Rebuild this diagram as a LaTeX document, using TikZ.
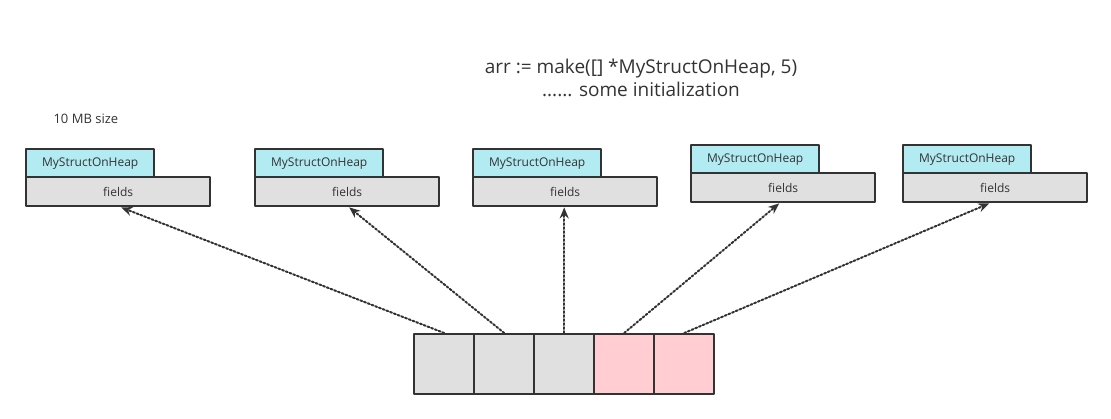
\documentclass[tikz,border=0pt]{standalone}
\usepackage{fontspec}
\setmainfont{Open Sans}
\usepackage{xcolor}
\usetikzlibrary{arrows.meta}
\definecolor{bordc}{HTML}{333333}
\definecolor{hdrc}{HTML}{B2EBF2}
\definecolor{cellc}{HTML}{E0E0E0}
\definecolor{pinkc}{HTML}{FFCDD2}

\begin{document}
\begin{tikzpicture}[x=1pt,y=-1pt,line cap=round,line join=round,
  hdr/.style={draw=bordc,line width=2.4pt,fill=hdrc,minimum width=128pt,minimum height=28pt,inner sep=0pt,anchor=north west,font=\fontsize{12}{14}\selectfont,text=bordc},
  fld/.style={draw=bordc,line width=2.4pt,fill=cellc,minimum width=184pt,minimum height=29pt,inner sep=0pt,anchor=north west,font=\fontsize{12}{14}\selectfont,text=bordc},
  cell/.style={draw=bordc,line width=2.4pt,minimum width=60pt,minimum height=60pt,inner sep=0pt,anchor=north west},
  ptr/.style={-{Stealth[length=11pt,width=9pt]},dash pattern=on 2pt off 2pt,line width=2pt,draw=bordc}]
\useasboundingbox (0,0) rectangle (1111,418);
% title
\node[font=\fontsize{19}{22}\selectfont,text=bordc] (title) at (641,69) {arr := make([] *MyStructOnHeap, 5)};
\node[font=\fontsize{19}{22}\selectfont,text=bordc] (init) at (641,89) {...... some initialization};
\node[font=\fontsize{13}{15}\selectfont,text=bordc,anchor=west] (size) at (50,119) {10 MB size};
% structs on heap
\node[hdr] (h1) at (25,148) {MyStructOnHeap};
\node[fld] (f1) at (25,176) {fields};
\node[hdr] (h2) at (254,148) {MyStructOnHeap};
\node[fld] (f2) at (254,176) {fields};
\node[hdr] (h3) at (472,148) {MyStructOnHeap};
\node[fld] (f3) at (472,176) {fields};
\node[hdr] (h4) at (690,144) {MyStructOnHeap};
\node[fld] (f4) at (690,172) {fields};
\node[hdr] (h5) at (902,144) {MyStructOnHeap};
\node[fld] (f5) at (902,172) {fields};
% slice
\foreach \i/\c in {1/cellc,2/cellc,3/cellc,4/pinkc,5/pinkc}
  \node[cell,fill=\c] (c\i) at (353+60*\i,333) {};
% pointers
\draw[ptr] (c1.north) -- ([xshift=3pt]f1.south);
\draw[ptr] (c2.north) -- ([xshift=2pt]f2.south);
\draw[ptr] (c3.north) -- ([xshift=-1pt]f3.south);
\draw[ptr] (c4.north) -- ([xshift=-4pt]f4.south);
\draw[ptr] (c5.north) -- ([xshift=-6pt]f5.south);
\end{tikzpicture}
\end{document}
